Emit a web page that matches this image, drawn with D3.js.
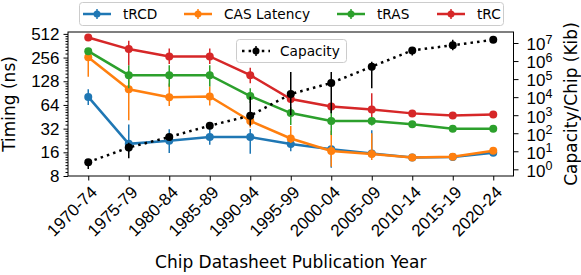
<!DOCTYPE html>
<html>
<head>
<meta charset="utf-8">
<script src="https://cdn.jsdelivr.net/npm/d3@7"></script>
<style>
  body { margin: 0; background: #fff; }
  svg { font-family: "DejaVu Sans", sans-serif; }
</style>
</head>
<body>
<div id="chart"></div>
<script>
// chip datasheet periods
const periods = ["1970-74", "1975-79", "1980-84", "1985-89", "1990-94", "1995-99",
                 "2000-04", "2005-09", "2010-14", "2015-19", "2020-24"];

// timing values (ns) with lower / upper error bounds
const tRCD   = [81, 20.5, 22.5, 25, 25, 20.4, 17.5, 15.5, 13.7, 14, 15.8];
const tRCDLo = [64, 16, 15.7, 20, 15.3, 16.5, 10.2, 14, 13.3, 13.6, 15.2];
const tRCDHi = [101, 36, 31.5, 32, 31.6, 23, 19, 30.5, 14.1, 14.4, 16.4];

const casLat   = [258, 101, 80, 82, 40, 24, 16.6, 15.2, 13.7, 14.1, 16.8];
const casLatLo = [146, 41, 62, 63, 33, 21, 10.5, 12.8, 13.3, 13.7, 16.2];
const casLatHi = [300, 153, 120, 110, 48, 34.5, 30, 28, 14.1, 14.5, 17.4];

const tRAS   = [309, 153, 153, 153, 83, 50.5, 40, 40, 36.3, 32, 32];
const tRASLo = [290, 104, 109, 110, 67.5, 35.5, 26.5, 35, 35, 31, 31];
const tRASHi = [330, 205, 205, 205, 104, 60, 55, 45, 37.5, 33, 33];

const tRC   = [461, 328, 265, 265, 153, 76, 61, 56, 50, 47, 48.5];
const tRCLo = [430, 205, 212, 212, 121, 68, 57, 45, 48, 45.5, 47];
const tRCHi = [490, 419, 335, 335, 190, 85, 65, 90, 52, 48.5, 50];

// capacity per chip (Kib)
const capacity   = [2.5, 16, 62, 262, 935, 14900, 61000, 490000, 3.9e6, 7.5e6, 1.5e7];
const capacityLo = [1.04, 4.1, 45, 200, 260, 1000, 1300, 31000, 2e6, 4e6, 1.3e7];
const capacityHi = [3, 30, 85, 320, 10500, 247000, 247000, 920000, 5.5e6, 1.5e7, 1.7e7];

const timingTicks = [8, 16, 32, 64, 128, 256, 512];
const capacityExp = [0, 1, 2, 3, 4, 5, 6, 7];

const series = [
  {name: "tRCD", color: "#1f77b4", v: tRCD, lo: tRCDLo, hi: tRCDHi},
  {name: "CAS Latency", color: "#ff7f0e", v: casLat, lo: casLatLo, hi: casLatHi},
  {name: "tRAS", color: "#2ca02c", v: tRAS, lo: tRASLo, hi: tRASHi},
  {name: "tRC", color: "#d62728", v: tRC, lo: tRCLo, hi: tRCHi}
];

const width = 581, height = 275;
const plot = {left: 68, right: 513.5, top: 32, bottom: 176};
const tickFont = 17;

const svg = d3.select("#chart").append("svg")
  .attr("width", width)
  .attr("height", height);

const x = d3.scalePoint()
  .domain(periods)
  .range([plot.left, plot.right])
  .padding(0.5);

const yL = d3.scaleLog().base(2)
  .domain([8, 541])
  .range([plot.bottom, plot.top]);

const yR = d3.scaleLog()
  .domain([Math.pow(10, -0.37), Math.pow(10, 7.61)])
  .range([plot.bottom, plot.top]);

//Left axis, majors + minors
const minorTicks = [];
timingTicks.forEach(t => {
  for (let k = 1; k < 8; k++) {
    const v = t * (1 + k / 8);
    if (v < yL.domain()[1]) minorTicks.push(v);
  }
});

svg.append("g")
  .attr("transform", "translate(" + plot.left + ",0)")
  .call(d3.axisLeft(yL).tickValues(minorTicks).tickSize(2.5).tickFormat(""))
  .call(g => g.select(".domain").remove());

svg.append("g")
  .attr("class", "y-axis")
  .attr("transform", "translate(" + plot.left + ",0)")
  .call(d3.axisLeft(yL).tickValues(timingTicks).tickSize(4.5).tickPadding(4).tickFormat(d3.format("d")))
  .call(g => g.select(".domain").remove())
  .call(g => g.selectAll("text").attr("font-size", tickFont).attr("fill", "#000"));

//Right axis (powers of ten)
svg.append("g")
  .attr("class", "y2-axis")
  .attr("transform", "translate(" + plot.right + ",0)")
  .call(d3.axisRight(yR).tickValues(capacityExp.map(e => Math.pow(10, e))).tickSize(5).tickPadding(8).tickFormat(""))
  .call(g => g.select(".domain").remove())
  .call(g => g.selectAll(".tick text").each(function (d) {
    const t = d3.select(this).attr("font-size", tickFont).attr("fill", "#000").attr("dy", "0.4em");
    t.append("tspan").text("10");
    t.append("tspan").attr("dy", "-0.5em").attr("font-size", 12.5).text(Math.round(Math.log10(d)));
  }));

//X axis
svg.append("g")
  .attr("class", "x-axis")
  .attr("transform", "translate(0," + plot.bottom + ")")
  .call(d3.axisBottom(x).tickSize(4.5))
  .call(g => g.select(".domain").remove())
  .call(g => g.selectAll(".tick text")
    .attr("font-size", tickFont)
    .attr("fill", "#000")
    .attr("text-anchor", "end")
    .attr("x", 0).attr("y", 0)
    .attr("dy", "0.78em")
    .attr("transform", "translate(0,8) rotate(-45)"));

//Frame
svg.append("rect")
  .attr("x", plot.left).attr("y", plot.top)
  .attr("width", plot.right - plot.left)
  .attr("height", plot.bottom - plot.top)
  .attr("fill", "none").attr("stroke", "#000").attr("stroke-width", 1);

//Axis titles
svg.append("text")
  .attr("x", (plot.left + plot.right) / 2).attr("y", 268)
  .attr("text-anchor", "middle").attr("font-size", 17)
  .text("Chip Datasheet Publication Year");

svg.append("text")
  .attr("transform", "translate(15," + (plot.top + plot.bottom) / 2 + ") rotate(-90)")
  .attr("text-anchor", "middle").attr("font-size", 17)
  .text("Timing (ns)");

svg.append("text")
  .attr("transform", "translate(577," + (plot.top + plot.bottom) / 2 + ") rotate(-90)")
  .attr("text-anchor", "middle").attr("font-size", 17)
  .text("Capacity/Chip (Kib)");

//Timing series
const lineL = d3.line().x((d, i) => x(periods[i])).y(d => yL(d));

const plotArea = svg.append("g");
series.forEach(s => {
  const g = plotArea.append("g").attr("class", "series");
  g.selectAll("line.err")
    .data(periods)
    .enter()
    .append("line")
    .attr("class", "err")
    .attr("x1", d => x(d)).attr("x2", d => x(d))
    .attr("y1", (d, i) => yL(Math.max(s.lo[i], 8)))
    .attr("y2", (d, i) => yL(s.hi[i]))
    .attr("stroke", s.color).attr("stroke-width", 1.5);
  g.append("path")
    .datum(s.v)
    .attr("d", lineL)
    .attr("fill", "none")
    .attr("stroke", s.color)
    .attr("stroke-width", 2.5);
  g.selectAll("circle")
    .data(s.v)
    .enter()
    .append("circle")
    .attr("cx", (d, i) => x(periods[i]))
    .attr("cy", d => yL(d))
    .attr("r", 4)
    .attr("fill", s.color);
});

//Capacity series
const lineR = d3.line().x((d, i) => x(periods[i])).y(d => yR(d));
const cap = svg.append("g").attr("class", "capacity");
cap.selectAll("line.err")
  .data(periods)
  .enter()
  .append("line")
  .attr("x1", d => x(d)).attr("x2", d => x(d))
  .attr("y1", (d, i) => yR(capacityLo[i]))
  .attr("y2", (d, i) => yR(capacityHi[i]))
  .attr("stroke", "#000").attr("stroke-width", 1.5);
cap.append("path")
  .datum(capacity)
  .attr("d", lineR)
  .attr("fill", "none")
  .attr("stroke", "#000")
  .attr("stroke-width", 2.5)
  .attr("stroke-dasharray", "2.5,4.1");
cap.selectAll("circle")
  .data(capacity)
  .enter()
  .append("circle")
  .attr("cx", (d, i) => x(periods[i]))
  .attr("cy", d => yR(d))
  .attr("r", 4)
  .attr("fill", "#000");

//Legend handles
const handle = (g, cx, cy, color, dashed) => {
  g.append("line")
    .attr("x1", cx - 14).attr("x2", cx + 14)
    .attr("y1", cy).attr("y2", cy)
    .attr("stroke", color).attr("stroke-width", 2.5)
    .attr("stroke-dasharray", dashed ? "2.5,4.1" : null);
  g.append("line")
    .attr("x1", cx).attr("x2", cx)
    .attr("y1", cy - 5).attr("y2", cy + 5)
    .attr("stroke", color).attr("stroke-width", 1.5);
  g.append("circle").attr("cx", cx).attr("cy", cy).attr("r", 3.5).attr("fill", color);
};

const legend = svg.append("g").attr("class", "legend");
legend.append("rect")
  .attr("x", 79.5).attr("y", 2.5).attr("width", 424).attr("height", 23).attr("rx", 3)
  .attr("fill", "#fff").attr("fill-opacity", 0.8).attr("stroke", "#ccc");
const legendX = [97, 198, 351, 451];
series.forEach((s, i) => {
  handle(legend, legendX[i], 14, s.color, false);
  legend.append("text")
    .attr("x", legendX[i] + 26).attr("y", 14).attr("dy", "0.36em")
    .attr("font-size", 13.7)
    .text(s.name);
});

const legend2 = svg.append("g").attr("class", "legend2");
legend2.append("rect")
  .attr("x", 236.5).attr("y", 39.5).attr("width", 110).attr("height", 23).attr("rx", 3)
  .attr("fill", "#fff").attr("fill-opacity", 0.8).attr("stroke", "#ccc");
handle(legend2, 256, 51, "#000", true);
legend2.append("text")
  .attr("x", 280).attr("y", 51).attr("dy", "0.36em")
  .attr("font-size", 13.7)
  .text("Capacity");
</script>
</body>
</html>
